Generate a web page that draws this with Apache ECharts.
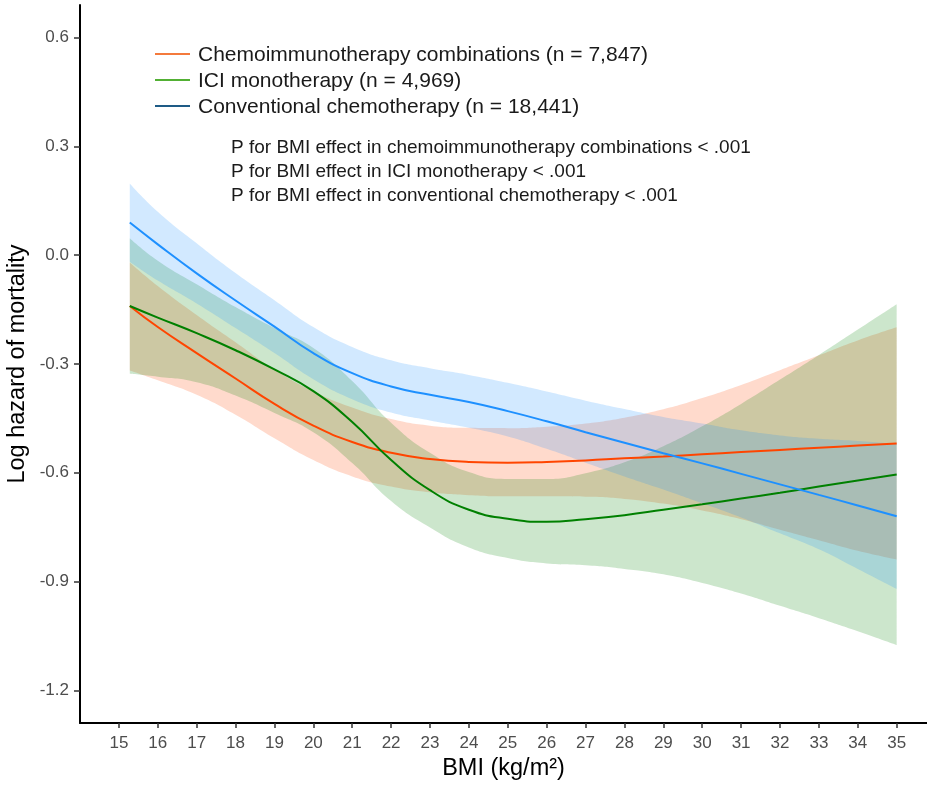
<!DOCTYPE html>
<html>
<head>
    <meta charset="utf-8">
    <title>BMI and log hazard of mortality</title>
    <script src="https://cdn.jsdelivr.net/npm/echarts@6/dist/echarts.min.js"></script>
    <style>
        html, body { margin: 0; padding: 0; background: #fff; }
        #main { width: 927px; height: 785px; }
    </style>
</head>
<body>
<div id="main"></div>
<script type="text/javascript">
    // BMI grid the curves are read at
    var bmi = [15.28, 16, 17, 18, 19, 20, 21, 22, 23, 24, 25, 26, 27, 28, 29, 30, 31, 32, 33, 34, 35];

    // Chemoimmunotherapy combinations
    var chemoImmunoFit = [-0.14, -0.198, -0.27, -0.34, -0.41, -0.47, -0.515, -0.545, -0.562, -0.57, -0.572, -0.57, -0.566, -0.56, -0.555, -0.549, -0.543, -0.537, -0.531, -0.525, -0.519];
    var chemoImmunoLow = [-0.318, -0.345, -0.385, -0.44, -0.505, -0.565, -0.61, -0.638, -0.654, -0.662, -0.665, -0.665, -0.666, -0.672, -0.685, -0.704, -0.728, -0.757, -0.786, -0.815, -0.839];
    var chemoImmunoHigh = [-0.02, -0.085, -0.165, -0.24, -0.315, -0.375, -0.42, -0.452, -0.47, -0.476, -0.477, -0.473, -0.464, -0.448, -0.425, -0.394, -0.358, -0.317, -0.276, -0.235, -0.199];

    // ICI monotherapy
    var iciFit = [-0.14, -0.172, -0.215, -0.262, -0.315, -0.375, -0.46, -0.565, -0.648, -0.702, -0.727, -0.735, -0.728, -0.717, -0.702, -0.687, -0.671, -0.655, -0.638, -0.621, -0.605];
    var iciLow = [-0.327, -0.335, -0.35, -0.387, -0.435, -0.488, -0.573, -0.678, -0.751, -0.806, -0.835, -0.85, -0.855, -0.865, -0.88, -0.904, -0.933, -0.967, -1.001, -1.037, -1.075];
    var iciHigh = [0.047, -0.015, -0.08, -0.143, -0.201, -0.256, -0.347, -0.462, -0.545, -0.598, -0.617, -0.617, -0.601, -0.571, -0.527, -0.472, -0.41, -0.343, -0.275, -0.205, -0.135];

    // Conventional chemotherapy
    var chemoFit = [0.09, 0.03, -0.05, -0.125, -0.197, -0.27, -0.325, -0.362, -0.385, -0.405, -0.43, -0.458, -0.488, -0.517, -0.546, -0.574, -0.603, -0.632, -0.661, -0.69, -0.72];
    var chemoLow = [-0.018, -0.07, -0.133, -0.201, -0.27, -0.342, -0.397, -0.434, -0.456, -0.476, -0.5, -0.534, -0.572, -0.61, -0.646, -0.684, -0.723, -0.767, -0.811, -0.865, -0.92];
    var chemoHigh = [0.198, 0.12, 0.033, -0.049, -0.124, -0.198, -0.253, -0.29, -0.312, -0.33, -0.352, -0.376, -0.401, -0.424, -0.446, -0.464, -0.483, -0.497, -0.506, -0.512, -0.52];

    // axis ticks
    var xTicks = [15, 16, 17, 18, 19, 20, 21, 22, 23, 24, 25, 26, 27, 28, 29, 30, 31, 32, 33, 34, 35];
    var yTicks = [-1.2, -0.9, -0.6, -0.3, 0, 0.3, 0.6];

    var legendItems = ['Chemoimmunotherapy combinations (n = 7,847)', 'ICI monotherapy (n = 4,969)', 'Conventional chemotherapy (n = 18,441)'];
    var pTexts = ['P for BMI effect in chemoimmunotherapy combinations < .001', 'P for BMI effect in ICI monotherapy < .001', 'P for BMI effect in conventional chemotherapy < .001'];

    var FONT = '"Liberation Sans", Arial, Helvetica, sans-serif';

    function pairs(ys) {
        return bmi.map(function (x, i) { return [x, ys[i]]; });
    }
    // value first, bmi second -> stacking happens on the y dimension
    function swapped(ys) {
        return bmi.map(function (x, i) { return [ys[i], x]; });
    }
    function widths(lo, hi) {
        return bmi.map(function (x, i) { return [hi[i] - lo[i], x]; });
    }

    // band = invisible lower line + stacked width with fill
    function band(name, lo, hi, fill) {
        return [
            {
                name: name + '-lo', type: 'line', stack: name, stackStrategy: 'all', smooth: true,
                symbol: 'none', silent: true, z: 1,
                encode: { x: 1, y: 0 },
                lineStyle: { opacity: 0 },
                data: swapped(lo)
            },
            {
                name: name + '-band', type: 'line', stack: name, stackStrategy: 'all', smooth: true,
                symbol: 'none', silent: true, z: 1,
                encode: { x: 1, y: 0 },
                lineStyle: { opacity: 0 },
                areaStyle: { color: fill, opacity: 1 },
                data: widths(lo, hi)
            }
        ];
    }
    function curve(name, ys, color) {
        return {
            name: name, type: 'line', smooth: true, symbol: 'none', z: 3,
            lineStyle: { color: color, width: 2 },
            data: pairs(ys)
        };
    }

    var legendColors = ['#F47A3C', '#52B034', '#1E5B86'];
    var graphics = [];
    var legendY = [55, 81, 107];
    legendItems.forEach(function (t, i) {
        graphics.push({
            type: 'line', shape: { x1: 155, y1: legendY[i] - 1, x2: 190, y2: legendY[i] - 1 },
            style: { stroke: legendColors[i], lineWidth: 2 }
        });
        graphics.push({
            type: 'text', x: 198, y: legendY[i],
            style: { text: t, fill: '#1a1a1a', font: '21px ' + FONT, verticalAlign: 'middle' }
        });
    });
    var pY = [148, 172, 196];
    pTexts.forEach(function (t, i) {
        graphics.push({
            type: 'text', x: 231, y: pY[i],
            style: { text: t, fill: '#1a1a1a', font: '19px ' + FONT, verticalAlign: 'middle' }
        });
    });

    var myChart = echarts.init(document.getElementById('main'));
    var option = {
        animation: false,
        backgroundColor: '#fff',
        textStyle: { fontFamily: FONT },
        grid: { left: 80, top: 5, right: 0, bottom: 62, containLabel: false, outerBoundsMode: 'none' },
        xAxis: {
            type: 'value', min: 14.0, max: 35.78,
            name: 'BMI (kg/m²)', nameLocation: 'middle', nameGap: 34, nameMoveOverlap: false,
            nameTextStyle: { fontSize: 23.5, color: '#000', fontFamily: FONT },
            axisLine: { show: true, onZero: false, lineStyle: { color: '#000', width: 2 } },
            axisTick: { show: true, length: 5, customValues: xTicks, lineStyle: { color: '#333', width: 1.5 } },
            axisLabel: { customValues: xTicks, fontSize: 17, color: '#4D4D4D', margin: 12, fontFamily: FONT },
            splitLine: { show: false }
        },
        yAxis: {
            type: 'value', min: -1.29, max: 0.69,
            name: 'Log hazard of mortality', nameLocation: 'middle', nameGap: 50, nameMoveOverlap: false,
            nameTextStyle: { fontSize: 23.5, color: '#000', fontFamily: FONT },
            axisLine: { show: true, onZero: false, lineStyle: { color: '#000', width: 2 } },
            axisTick: { show: true, length: 6, customValues: yTicks, lineStyle: { color: '#333', width: 1.5 } },
            axisLabel: {
                customValues: yTicks, fontSize: 17, color: '#4D4D4D', margin: 11, fontFamily: FONT,
                formatter: function (v) { return v.toFixed(1); }
            },
            splitLine: { show: false }
        },
        graphic: graphics,
        series: [].concat(
            band('chemoImmuno', chemoImmunoLow, chemoImmunoHigh, 'rgba(255,69,0,0.2)'),
            band('ici', iciLow, iciHigh, 'rgba(0,128,0,0.2)'),
            band('chemo', chemoLow, chemoHigh, 'rgba(30,144,255,0.2)'),
            [
                curve('Chemoimmunotherapy combinations', chemoImmunoFit, '#FF4500'),
                curve('ICI monotherapy', iciFit, '#008000'),
                curve('Conventional chemotherapy', chemoFit, '#1E90FF')
            ]
        )
    };
    myChart.setOption(option);
</script>
</body>
</html>
